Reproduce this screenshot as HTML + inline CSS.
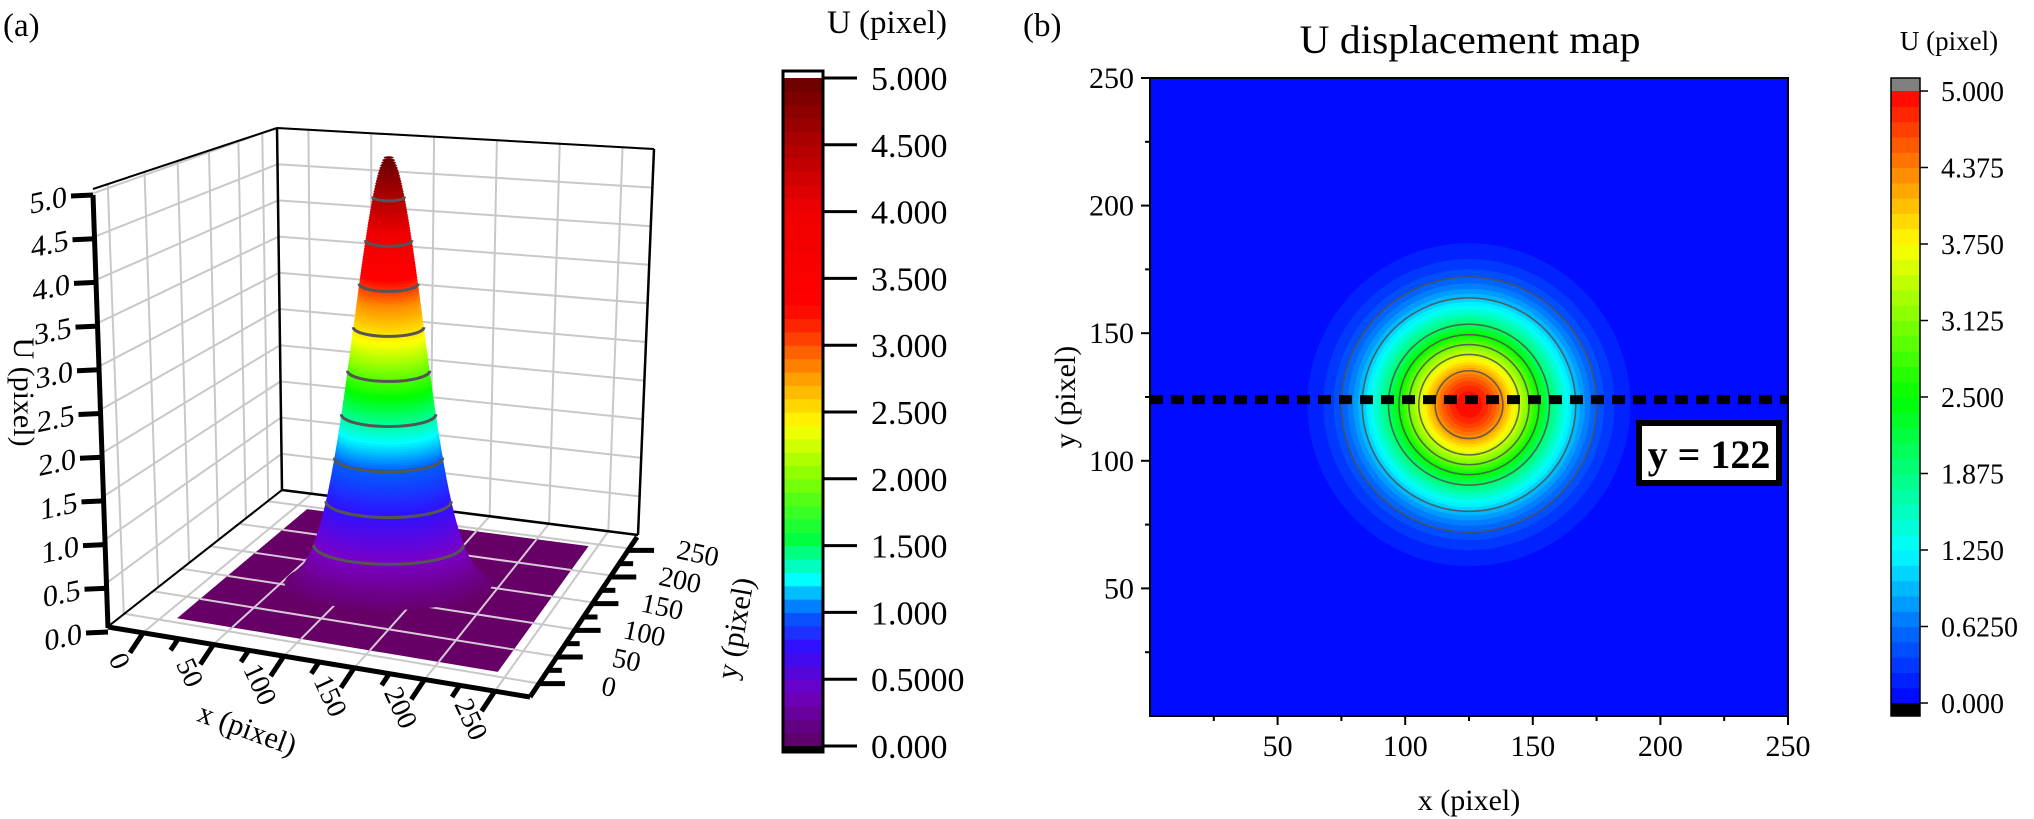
<!DOCTYPE html>
<html><head><meta charset="utf-8"><style>
html,body{margin:0;padding:0;background:#fff;}
svg{display:block;font-family:"Liberation Serif","DejaVu Serif",serif;}
</style></head><body>
<svg id="fig" xmlns="http://www.w3.org/2000/svg" width="2034" height="819" viewBox="0 0 2034 819">
<rect x="0" y="0" width="2034" height="819" fill="#fff"/>
<g id="pa"></g>
<g id="cba"></g>
<g id="pb"></g>
<g id="cbb"></g>
<text x="3" y="36" font-size="33">(a)</text>
<text x="1023" y="36" font-size="33">(b)</text>
</svg>
<script>
// ---------- data ----------
const surfaceAmplitude = [5.0];
const surfaceCenter = [125, 122];
const surfaceSigma = [23.3];
const contourLevels3d = [0.5, 1.0, 1.5, 2.0, 2.5, 3.0, 3.5, 4.0, 4.5];
const contourLevelsMap = [0.5, 1.0, 2.0, 2.5, 3.0, 3.5, 4.25];
const zTicks = [0, 0.5, 1, 1.5, 2, 2.5, 3, 3.5, 4, 4.5, 5];
const zTickLabels = ['0.0','0.5','1.0','1.5','2.0','2.5','3.0','3.5','4.0','4.5','5.0'];
const xyTicks3d = [0, 25, 50, 75, 100, 125, 150, 175, 200, 225, 250];
const xyTickLabels3d = ['0','50','100','150','200','250'];
const cbarATicks = [5, 4.5, 4, 3.5, 3, 2.5, 2, 1.5, 1, 0.5, 0];
const cbarALabels = ['5.000','4.500','4.000','3.500','3.000','2.500','2.000','1.500','1.000','0.5000','0.000'];
const cbarBTicks = [5, 4.375, 3.75, 3.125, 2.5, 1.875, 1.25, 0.625, 0];
const cbarBLabels = ['5.000','4.375','3.750','3.125','2.500','1.875','1.250','0.6250','0.000'];
const mapTicks = [25, 50, 75, 100, 125, 150, 175, 200, 225, 250];
const mapTickLabels = ['50','100','150','200','250'];
const cutLineY = [122];

// ---------- helpers ----------
const NS = 'http://www.w3.org/2000/svg';
function mk(parent, tag, attrs){ const e=document.createElementNS(NS,tag); for(const k in attrs) e.setAttribute(k, attrs[k]); parent.appendChild(e); return e; }
function hex(c){ return [parseInt(c.slice(1,3),16),parseInt(c.slice(3,5),16),parseInt(c.slice(5,7),16)]; }
function cmap(stops, v){
  if(v<=stops[0][0]) return stops[0][1];
  for(let i=1;i<stops.length;i++){ if(v<=stops[i][0]){ const a=stops[i-1], b=stops[i]; const t=(v-a[0])/(b[0]-a[0]); const A=hex(a[1]),B=hex(b[1]); return 'rgb('+A.map((x,j)=>Math.round(x+(B[j]-x)*t)).join(',')+')'; } }
  return stops[stops.length-1][1];
}
const stopsA = [[0,'#5a0060'],[0.4,'#7000c0'],[0.75,'#3010ff'],[1.0,'#0060ff'],[1.25,'#00ffff'],[1.55,'#00ff40'],[2.0,'#80ff00'],[2.4,'#ffff00'],[2.75,'#ffa000'],[3.1,'#ff3000'],[3.3,'#ff0000'],[4.0,'#f00000'],[4.5,'#b00000'],[5,'#6a0000']];
const stops3d = [[0,'#660066'],[0.5,'#7a00c8'],[1.0,'#3010ff'],[1.5,'#0060ff'],[1.8,'#00ffff'],[2.3,'#00ff00'],[2.9,'#ffff00'],[3.3,'#ff9000'],[3.6,'#ff0000'],[4.1,'#f00000'],[4.6,'#a00000'],[5,'#600000']];
const stopsB = [[0,'#0000ff'],[0.625,'#0070ff'],[1.25,'#00ffff'],[1.875,'#00ff80'],[2.5,'#00ff00'],[3.125,'#80ff00'],[3.75,'#ffff00'],[4.375,'#ff8000'],[5,'#ff0000']];
function radiusAt(L){ return surfaceSigma[0]*Math.sqrt(2*Math.log(surfaceAmplitude[0]/L)); }

// ---------- panel a: 3D ----------
const pa = document.getElementById('pa');
const FL=[110,625], FR=[530,697], BR=[638,535], BL=[282,490];
const WTL=[93,189], WTR=[277,128], BTR=[654,149];
function bil(q, u, v){
  const a=q[0],b=q[1],c=q[2],d=q[3];
  const x=(1-u)*(1-v)*a[0]+u*(1-v)*b[0]+u*v*c[0]+(1-u)*v*d[0];
  const y=(1-u)*(1-v)*a[1]+u*(1-v)*b[1]+u*v*c[1]+(1-u)*v*d[1];
  return [x,y];
}
const floorQ=[FL,FR,BR,BL];
const backQ=[BL,BR,BTR,WTR];
const leftQ=[FL,BL,WTR,WTL];
function uOf(d){ return (d+25)/300; }
function P(x,y){ return bil(floorQ,uOf(x),uOf(y)); }
const zPx = 87;
function line(g,p,q,st,w,name){ const l=mk(g,'line',{x1:p[0],y1:p[1],x2:q[0],y2:q[1],stroke:st,'stroke-width':w});   return l; }
function poly(g,pts,fill,name){ const p=mk(g,'polygon',{points:pts.map(p=>p.join(',')).join(' '),fill:fill});   return p; }

const gWalls = mk(pa,'g',{});  
const gc='#c8c8c8';
[0,50,100,150,200,250].forEach(x=>{ line(gWalls,bil(backQ,uOf(x),0),bil(backQ,uOf(x),1),gc,2,'back-wall-gridline'); });
zTicks.forEach(z=>{ line(gWalls,bil(backQ,0,z/5),bil(backQ,1,z/5),gc,2,'back-wall-gridline'); });
[0.08,0.28,0.46,0.63,0.79,0.92].forEach(u=>{ line(gWalls,bil(leftQ,u,0),bil(leftQ,u,1),gc,2,'left-wall-gridline'); });
zTicks.forEach(z=>{ line(gWalls,bil(leftQ,0,z/5*0.99),bil(leftQ,1,z/5),gc,2,'left-wall-gridline'); });
[0,50,100,150,200,250].forEach(d=>{ line(gWalls,P(d,-25),P(d,275),gc,2,'floor-gridline'); line(gWalls,P(-25,d),P(275,d),gc,2,'floor-gridline'); });
line(gWalls,WTL,WTR,'#000',2,'box-edge'); line(gWalls,WTR,BTR,'#000',2,'box-edge');
line(gWalls,WTR,BL,'#000',2.5,'box-edge'); line(gWalls,BTR,BR,'#000',2.5,'box-edge');
line(gWalls,BL,BR,'#000',2.5,'box-edge'); line(gWalls,BL,FL,'#000',2,'box-edge');
poly(pa,[P(10,8),P(243,8),P(243,245),P(10,245)],'#660066','surface-floor');
const gFg = mk(pa,'g',{});  
[50,100,150,200].forEach(d=>{ line(gFg,P(d,8),P(d,245),'#d8c8d8',2,'floor-gridline'); line(gFg,P(10,d),P(243,d),'#d8c8d8',2,'floor-gridline'); });
const gCone = mk(pa,'g',{});  
const base = P(surfaceCenter[0], surfaceCenter[1]);
const k3 = 1.5, flat = 0.26;
for(let i=2; i<166; i++){
  const z=i*0.03;
  if(z>=surfaceAmplitude[0]) break;
  const rx = radiusAt(z)*k3;
  const e = mk(gCone,'ellipse',{cx:base[0],cy:base[1]-z*zPx,rx:rx,ry:rx*flat,fill:cmap(stops3d,z)});
   
}
contourLevels3d.forEach(L=>{
  const rx = radiusAt(L)*k3, ry=rx*flat, cy=base[1]-L*zPx;
  const p = mk(gCone,'path',{d:`M${base[0]-rx},${cy} A${rx},${ry} 0 0 0 ${base[0]+rx},${cy}`,fill:'none',stroke:'#555','stroke-width':3});
   
});
const Z0=[108,632], Z5=[93,195];
function zP(z){ return [Z0[0]+(Z5[0]-Z0[0])*z/5, Z0[1]+(Z5[1]-Z0[1])*z/5]; }
const gAx = mk(pa,'g',{});  
line(gAx,[Z0[0],628],Z5,'#000',5,'z-axis-line');
zTicks.forEach((z,i)=>{ const p=zP(z); line(gAx,p,[p[0]-22,p[1]+1],'#000',5,'z-tick');
  const t=mk(gAx,'text',{x:p[0]-26,y:p[1]+11,'font-size':30,'text-anchor':'end',transform:`skewY(-12) translate(0,${(p[0]-26)*Math.tan(12*Math.PI/180)})`}); t.textContent=zTickLabels[i];
    });
const zt=mk(gAx,'text',{x:0,y:0,'font-size':30,'text-anchor':'middle',transform:'translate(14,392) rotate(90)'}); zt.textContent='U (pixel)';
 
const XA0=[108,627], XA1=[530,697];
line(gAx,XA0,XA1,'#000',5,'x-axis-line');
function xA(d){ const u=uOf(d); return [XA0[0]+(XA1[0]-XA0[0])*u, XA0[1]+(XA1[1]-XA0[1])*u]; }
xyTicks3d.forEach((d,i)=>{ const p=xA(d); const L=(i%2===0)?24:14; line(gAx,p,[p[0]-0.55*L,p[1]+0.83*L],'#000',5,'x-tick');
  if(i%2===0){ const t=mk(gAx,'text',{x:0,y:0,'font-size':28,'text-anchor':'middle',transform:`translate(${p[0]-32},${p[1]+32}) rotate(65)`}); t.textContent=xyTickLabels3d[i/2];
    } });
const xt=mk(gAx,'text',{x:0,y:0,'font-size':30,'text-anchor':'middle',transform:'translate(244,738) rotate(20)'}); xt.textContent='x (pixel)';
 
const YA0=[530,697], YA1=[637,537];
line(gAx,YA0,YA1,'#000',5,'y-axis-line');
function yA(d){ const v=uOf(d); return [YA0[0]+(YA1[0]-YA0[0])*v, YA0[1]+(YA1[1]-YA0[1])*v]; }
xyTicks3d.forEach((d,i)=>{ const p=yA(d); const L=(i%2===0)?26:14; line(gAx,p,[p[0]+L,p[1]],'#000',5,'y-tick');
  if(i%2===0){ const t=mk(gAx,'text',{x:0,y:0,'font-size':28,'text-anchor':'middle',transform:`translate(${p[0]+68},${p[1]+12}) rotate(12)`}); t.textContent=xyTickLabels3d[i/2];
    } });
const yt=mk(gAx,'text',{x:0,y:0,'font-size':30,'text-anchor':'middle',transform:'translate(745,630) rotate(-80)'}); yt.textContent='y (pixel)';
 

// ---------- colorbar a ----------
const cba = document.getElementById('cba');
const cbaX=783, cbaW=40, cbaTop=78, cbaBot=746;
function cyA(v){ return cbaBot-(cbaBot-cbaTop)*v/5; }
for(let k=0; k<50; k++){ const v=k*0.1; const r=mk(cba,'rect',{x:cbaX,y:cyA(v+0.1),width:cbaW,height:cyA(v)-cyA(v+0.1)+0.6,fill:cmap(stopsA,v+0.05)});
    }
mk(cba,'rect',{x:cbaX,y:71,width:cbaW,height:7,fill:'#fff'});
mk(cba,'rect',{x:cbaX,y:746,width:cbaW,height:6,fill:'#000'});
const cbaFrame=mk(cba,'rect',{x:cbaX,y:71,width:cbaW,height:681,fill:'none',stroke:'#000','stroke-width':3});
 
cbarATicks.forEach((v,i)=>{ const y=cyA(v); line(cba,[cbaX+cbaW,y],[857,y],'#000',3,'colorbar-a-tick');
  const t=mk(cba,'text',{x:871,y:y+12,'font-size':34}); t.textContent=cbarALabels[i];   });
const cat=mk(cba,'text',{x:887,y:33,'font-size':33,'text-anchor':'middle'}); cat.textContent='U (pixel)';
 

// ---------- panel b: map ----------
const pb = document.getElementById('pb');
const X0=1150, X1=1788, Y0=716, Y1=78;
function xs(v){ return X0+(X1-X0)*v/250; }
function ys(v){ return Y0-(Y0-Y1)*v/250; }
const ux=(X1-X0)/250;
const clip=mk(pb,'clipPath',{id:'mapclip'}); mk(clip,'rect',{x:X0,y:Y1,width:X1-X0,height:Y0-Y1});
const gMap=mk(pb,'g',{'clip-path':'url(#mapclip)'});  
mk(gMap,'rect',{x:X0,y:Y1,width:X1-X0,height:Y0-Y1,fill:cmap(stopsB,0.06)});
for(let k=1;k<40;k++){ const L=k*0.125; const r=radiusAt(L)*ux;
  const c=mk(gMap,'circle',{cx:xs(surfaceCenter[0]),cy:ys(surfaceCenter[1]),r:r,fill:cmap(stopsB,L+0.0625)});
    }
contourLevelsMap.forEach(L=>{ const c=mk(gMap,'circle',{cx:xs(surfaceCenter[0]),cy:ys(surfaceCenter[1]),r:radiusAt(L)*ux,fill:'none',stroke:'#505050','stroke-width':1.6,'stroke-opacity':0.85});
    });
const cut=mk(gMap,'line',{x1:X0,y1:ys(cutLineY[0])-5,x2:X1,y2:ys(cutLineY[0])-5,stroke:'#000','stroke-width':9,'stroke-dasharray':'13 8'});
 
const frame=mk(pb,'rect',{x:X0,y:Y1,width:X1-X0,height:Y0-Y1,fill:'none',stroke:'#000','stroke-width':2});
 
mapTicks.forEach((v,i)=>{ const major=(i%2===1); const L=major?9:5;
  line(pb,[xs(v),Y0],[xs(v),Y0+L],'#000',2,'x-tick'); line(pb,[X0,ys(v)],[X0-L,ys(v)],'#000',2,'y-tick');
  if(major){ const lab=mapTickLabels[(i-1)/2];
    const tx=mk(pb,'text',{x:xs(v),y:Y0+40,'font-size':30,'text-anchor':'middle'}); tx.textContent=lab;  
    const ty=mk(pb,'text',{x:X0-16,y:ys(v)+10,'font-size':30,'text-anchor':'end'}); ty.textContent=lab;   } });
const bx=mk(pb,'text',{x:1469,y:810,'font-size':30,'text-anchor':'middle'}); bx.textContent='x (pixel)';  
const by=mk(pb,'text',{x:0,y:0,'font-size':30,'text-anchor':'middle',transform:'translate(1075,397) rotate(-90)'}); by.textContent='y (pixel)';  
const tt=mk(pb,'text',{x:1470,y:53,'font-size':40,'text-anchor':'middle',textLength:341,lengthAdjust:'spacingAndGlyphs'}); tt.textContent='U displacement map';  
const box=mk(pb,'rect',{x:1639,y:423,width:140,height:60,fill:'#fff',stroke:'#000','stroke-width':6});  
const bt=mk(pb,'text',{x:1709,y:468,'font-size':40,'font-weight':'bold','text-anchor':'middle'}); bt.textContent='y = '+cutLineY[0];  

// ---------- colorbar b ----------
const cbb=document.getElementById('cbb');
const cbbX=1891, cbbW=29, cbbTop=91, cbbBot=703;
function cyB(v){ return cbbBot-(cbbBot-cbbTop)*v/5; }
for(let k=0;k<40;k++){ const v=k*0.125; const r=mk(cbb,'rect',{x:cbbX,y:cyB(v+0.125),width:cbbW,height:cyB(v)-cyB(v+0.125)+0.6,fill:cmap(stopsB,v+0.0625)});
    }
mk(cbb,'rect',{x:cbbX,y:78,width:cbbW,height:13,fill:'#808080'});
mk(cbb,'rect',{x:cbbX,y:703,width:cbbW,height:13,fill:'#000'});
const cbbFrame=mk(cbb,'rect',{x:cbbX,y:78,width:cbbW,height:638,fill:'none',stroke:'#000','stroke-width':1.5});
 
cbarBTicks.forEach((v,i)=>{ const y=cyB(v); line(cbb,[cbbX+cbbW,y],[1928,y],'#000',1.5,'colorbar-b-tick');
  const t=mk(cbb,'text',{x:1941,y:y+10,'font-size':28}); t.textContent=cbarBLabels[i];   });
const cbt=mk(cbb,'text',{x:1949,y:50,'font-size':27,'text-anchor':'middle'}); cbt.textContent='U (pixel)';
 
</script>
</body></html>
